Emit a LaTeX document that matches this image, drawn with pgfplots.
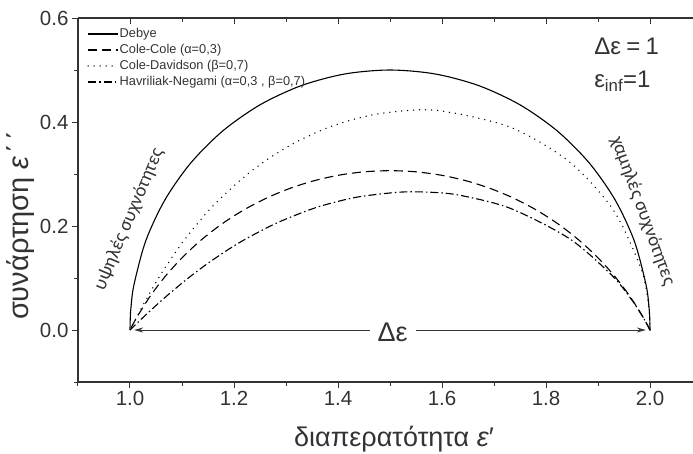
\documentclass[border=0pt]{standalone}
\usepackage{fontspec}
\setmainfont{Liberation Sans}
\newfontfamily\carl{Carlito}
\usepackage{pgfplots}
\pgfplotsset{compat=1.18}
\usetikzlibrary{arrows.meta}

\definecolor{axisgray}{HTML}{333333}

\begin{document}
\begin{tikzpicture}
\pgfplotsset{
  common/.style={
    scale only axis, width=615pt, height=364pt,
    xmin=0.9, xmax=2.0827, ymin=-0.1, ymax=0.6,
    xtick={0.8,1.0,...,2.2}, ytick={-0.2,0,0.2,0.4,0.6},
    minor x tick num=1, minor y tick num=1,
    major tick length=6pt, minor tick length=3.5pt,
    axis line style={axisgray, line width=1.1pt},
    every tick/.style={axisgray, line width=1pt},
  },
}
\begin{axis}[common,
    axis x line*=bottom, axis y line*=left,
    tick align=outside,
    tick label style={font=\fontsize{20.5}{20.5}\selectfont, text=axisgray},
    /pgf/number format/.cd, fixed, fixed zerofill, precision=1, assume math mode=true, /pgfplots/.cd,
    xlabel={διαπερατότητα \textit{ε}′},
    ylabel={συνάρτηση \textit{ε}\hspace{0.08em}΄\hspace{0.12em}΄},
    xlabel style={font=\fontsize{27}{27}\selectfont, text=axisgray,
      at={(axis description cs:0.514,-0.157)}, anchor=center},
    ylabel style={font=\fontsize{29}{29}\selectfont, text=axisgray,
      at={(axis description cs:-0.094,0.43)}, anchor=center},
    legend style={draw=none, fill=none, at={(axis description cs:0.01,0.979)}, anchor=north west,
      font=\fontsize{12.8}{14}\selectfont, text=axisgray, row sep=3.6pt,
      nodes={inner sep=0.8pt}},
    legend cell align=left,
    legend image code/.code={\draw[#1] (0pt,0pt) -- (30pt,0pt);},
]
% Debye
\addplot[black, line width=1.1pt, smooth] coordinates {
 (2.0,0) (1.99952,0.02181) (1.99810,0.04358) (1.99240,0.08682) (1.96985,0.17101)
 (1.93301,0.25) (1.88302,0.32139) (1.82139,0.38302) (1.75,0.43301) (1.67101,0.46985)
 (1.58682,0.49240) (1.5,0.5) (1.41318,0.49240) (1.32899,0.46985) (1.25,0.43301)
 (1.17861,0.38302) (1.11698,0.32139) (1.06699,0.25) (1.03015,0.17101) (1.00760,0.08682)
 (1.00190,0.04358) (1.00048,0.02181) (1.0,0)
};
\addlegendentry{Debye}
% Cole-Cole
\addplot[black, line width=1.1pt, smooth, dash pattern=on 9pt off 5pt] coordinates {
 (2.0,0) (1.98601,0.0258) (1.95971,0.06709) (1.92990,0.10593) (1.89683,0.14203)
 (1.86073,0.17510) (1.82189,0.20491) (1.78060,0.23121) (1.73717,0.25382) (1.69194,0.27255)
 (1.64525,0.28728) (1.59745,0.29788) (1.54891,0.30426) (1.5,0.3064) (1.45109,0.30426)
 (1.40255,0.29788) (1.35475,0.28728) (1.30806,0.27255) (1.26283,0.25382) (1.21940,0.23121)
 (1.17811,0.20491) (1.13927,0.17510) (1.10317,0.14203) (1.07010,0.10593) (1.04029,0.06709)
 (1.01399,0.0258) (1.0,0)
};
\addlegendentry{Cole-Cole (α=0,3)}
% Cole-Davidson
\addplot[black, line width=1.5pt, smooth, line cap=round, dash pattern=on 0pt off 6pt] coordinates {
 (2.0,0) (1.99886,0.03052) (1.99547,0.06089) (1.98199,0.12057) (1.92896,0.23161)
 (1.84415,0.32404) (1.73264,0.38956) (1.60120,0.42097) (1.53036,0.42186) (1.45746,0.41190)
 (1.38356,0.39031) (1.30959,0.35615) (1.23634,0.30801) (1.16418,0.24341) (1.10665,0.17601)
 (1.06167,0.11080) (1.02732,0.05204) (1.0,0)
};
\addlegendentry{Cole-Davidson (β=0,7)}
% Havriliak-Negami
\addplot[black, line width=1.1pt, smooth, dash pattern=on 8pt off 3pt on 1.5pt off 3pt] coordinates {
 (2.0,0) (1.99350,0.01228) (1.98331,0.02997) (1.96524,0.05751) (1.92635,0.10546)
 (1.84496,0.17573) (1.73157,0.23391) (1.63791,0.25841) (1.58623,0.26448) (1.52212,0.26531)
 (1.44181,0.25641) (1.38392,0.24318) (1.34047,0.22945) (1.27982,0.20467) (1.22386,0.17578)
 (1.18866,0.15457) (1.14633,0.12581) (1.10957,0.09792) (1.07623,0.07030) (1.05467,0.05134)
 (1.03355,0.03200) (1.01763,0.01697) (1.0,0)
};
\addlegendentry{Havriliak-Negami (α=0,3 , β=0,7)}

\draw[axisgray, line width=0.9pt, {Stealth[length=9pt,width=5pt]}-{Stealth[length=9pt,width=5pt]}]
  (axis cs:1.008,0) -- (axis cs:1.992,0);
\node[fill=white, inner xsep=8pt, inner ysep=2pt, text=axisgray, font=\fontsize{27}{27}\selectfont]
  at (axis cs:1.505,-0.004) {Δε};

\node[anchor=west, text=axisgray, font=\fontsize{24}{24}\selectfont] at (axis cs:1.886,0.545)
  {Δε\hspace{0.22em}=\hspace{0.22em}1};
\node[anchor=west, text=axisgray, font=\fontsize{24}{24}\selectfont] at (axis cs:1.886,0.479)
  {ε\textsubscript{inf}=1};

\node[rotate=67, text=axisgray, font=\carl\fontsize{19}{19}\selectfont] at (axis cs:0.998,0.213) {υψηλές συχνότητες};
\node[rotate=-70, text=axisgray, font=\carl\fontsize{19}{19}\selectfont] at (axis cs:1.986,0.229) {χαμηλές συχνότητες};
\end{axis}

\begin{axis}[common,
    axis x line*=top, axis y line=none,
    tick align=inside, xticklabels={},
]
\end{axis}

\pgfresetboundingbox
\path[use as bounding box] (-78pt,-71pt) rectangle (615pt,382pt);
\end{tikzpicture}
\end{document}
